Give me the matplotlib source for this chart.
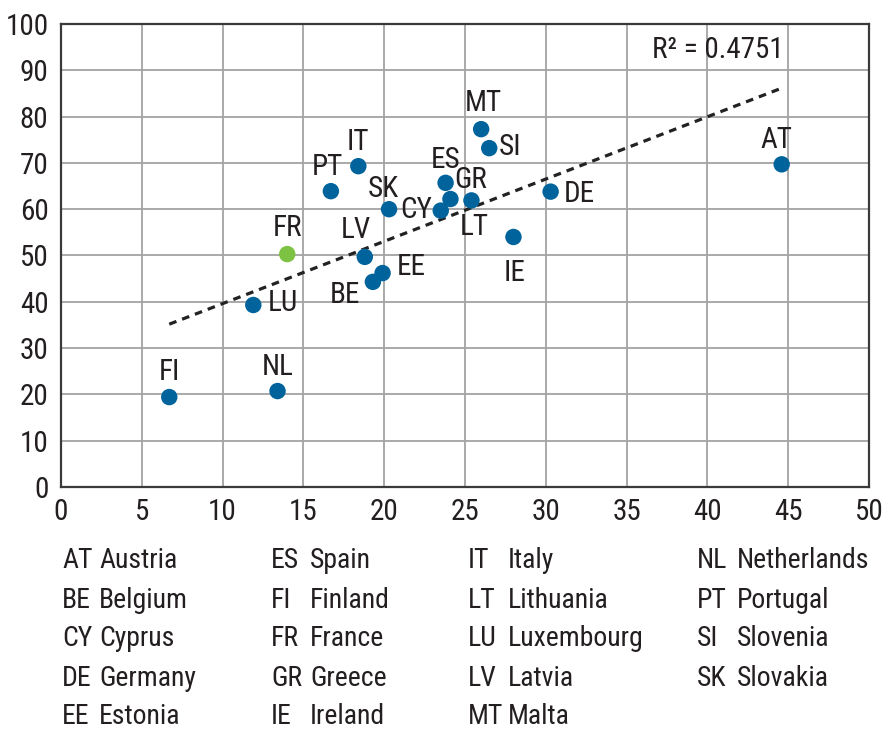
import numpy as np
import matplotlib
matplotlib.use("Agg")
import matplotlib.pyplot as plt
from matplotlib import font_manager

# pick a narrow family if one is installed
installed = {f.name for f in font_manager.fontManager.ttflist}
narrow = "DejaVu Sans"
for name in ["Liberation Sans Narrow", "Roboto Condensed", "DejaVu Sans Condensed", "Liberation Sans"]:
    if name in installed:
        narrow = name
        break
plt.rcParams["font.family"] = narrow

# data
codes = ["AT", "BE", "CY", "DE", "EE", "ES", "FI", "FR", "GR", "IE",
         "IT", "LT", "LU", "LV", "MT", "NL", "PT", "SI", "SK"]
x_vals = [44.6, 19.3, 23.5, 30.3, 19.9, 23.8, 6.7, 14.0, 24.1, 28.0,
          18.4, 25.4, 11.9, 18.8, 26.0, 13.4, 16.7, 26.5, 20.3]
y_vals = [69.7, 44.3, 59.7, 63.8, 46.2, 65.7, 19.4, 50.3, 62.2, 54.0,
          69.3, 61.9, 39.3, 49.7, 77.3, 20.7, 63.9, 73.2, 60.0]
highlight = "FR"
r2_text = "R² = 0.4751"

legend_codes = [["AT", "BE", "CY", "DE", "EE"],
                ["ES", "FI", "FR", "GR", "IE"],
                ["IT", "LT", "LU", "LV", "MT"],
                ["NL", "PT", "SI", "SK"]]
legend_names = [["Austria", "Belgium", "Cyprus", "Germany", "Estonia"],
                ["Spain", "Finland", "France", "Greece", "Ireland"],
                ["Italy", "Lithuania", "Luxembourg", "Latvia", "Malta"],
                ["Netherlands", "Portugal", "Slovenia", "Slovakia"]]

# label offsets in pixels (dx, dy, ha)
label_pos = {
    "AT": (-5, 24, "center"), "BE": (-13, -13, "right"), "CY": (-9, 1, "right"),
    "DE": (13, -2, "left"), "EE": (14, 6, "left"), "ES": (0, 23, "center"),
    "FI": (0, 25, "center"), "FR": (0, 26, "center"), "GR": (20, 19, "center"),
    "IE": (1, -36, "center"), "IT": (0, 24, "center"), "LT": (3, -27, "center"),
    "LU": (14, 2, "left"), "LV": (-9, 27, "center"), "MT": (2, 26, "center"),
    "NL": (0, 24, "center"), "PT": (-3, 24, "center"), "SI": (10, 1, "left"),
    "SK": (-6, 20, "center"),
}

blue = "#00639b"
green = "#7dc242"
text_col = "#231f20"

fig = plt.figure(figsize=(8.84, 7.31), dpi=100)
ax = fig.add_axes([0.069, 0.334, 0.914, 0.633])

ax.set_xlim(0, 50)
ax.set_ylim(0, 100)
ax.set_xticks(range(0, 51, 5))
ax.set_yticks(range(0, 101, 10))
ax.grid(True, color="#a3a3a3", linewidth=1.3)
ax.set_axisbelow(True)
for s in ax.spines.values():
    s.set_color("#3a3a3a")
    s.set_linewidth(1.6)
ax.tick_params(length=0, labelsize=21, colors=text_col)
ax.tick_params(axis="x", pad=8)
ax.tick_params(axis="y", pad=9)

# trend line
x = np.array(x_vals)
y = np.array(y_vals)
slope, intercept = np.polyfit(x, y, 1)
xs = np.array([x.min(), x.max()])
ax.plot(xs, slope * xs + intercept, color="#222222", linewidth=2.3,
        dashes=(2.4, 1.9), zorder=2)

colors = [green if c == highlight else blue for c in codes]
ax.scatter(x, y, s=140, c=colors, edgecolors="none", zorder=3)

for c, xv, yv in zip(codes, x_vals, y_vals):
    dx, dy, ha = label_pos[c]
    ax.annotate(c, (xv, yv), xytext=(dx, dy), textcoords="offset pixels",
                ha=ha, va="center", fontsize=21, color=text_col, zorder=4)

ax.text(44.7, 94.4, r2_text, ha="right", va="center", fontsize=21, color=text_col)

# country key below the chart
code_x = [62, 271, 468, 697]
name_x = [99, 310, 508, 737]
row_y = [561, 600, 639, 678, 716]
for col in range(len(legend_codes)):
    for row, (c, n) in enumerate(zip(legend_codes[col], legend_names[col])):
        yy = 1 - row_y[row] / 731
        fig.text(code_x[col] / 884, yy, c, ha="left", va="center",
                 fontsize=20, color=text_col)
        fig.text(name_x[col] / 884, yy, n, ha="left", va="center",
                 fontsize=20, color=text_col)

fig.savefig("out.png", dpi=100)
